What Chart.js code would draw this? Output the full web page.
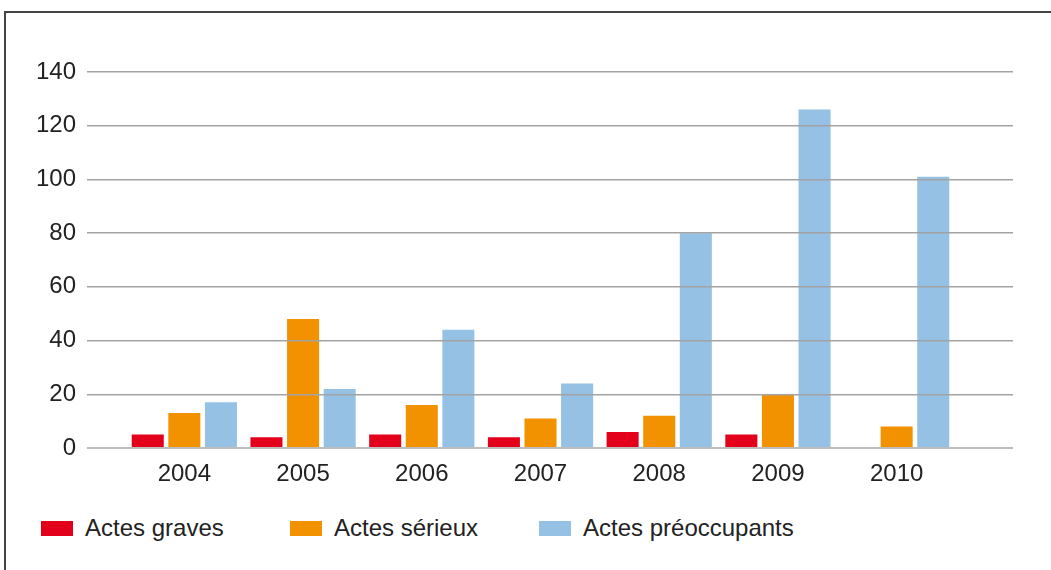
<!DOCTYPE html>
<html>
<head>
<meta charset="utf-8">
<script src="https://cdn.jsdelivr.net/npm/chart.js@4.4.1/dist/chart.umd.min.js"></script>
<style>
  html, body { margin: 0; padding: 0; background: #fff; }
  body { width: 1051px; height: 570px; position: relative; overflow: hidden; font-family: "Liberation Sans", Arial, sans-serif; }
  #frame { position: absolute; left: 4px; top: 11px; width: 1100px; height: 620px; border: 2px solid #444; box-sizing: border-box; }
  #c { position: absolute; left: 0; top: 0; }
  .lg { position: absolute; top: 514px; height: 28px; display: flex; align-items: center; font-size: 24px; color: #222; white-space: nowrap; }
  .lg span.box { display: inline-block; width: 32px; height: 15px; margin-right: 12px; }
</style>
</head>
<body>
<div id="frame"></div>
<canvas id="c" width="1051" height="500"></canvas>
<div id="legend"></div>
<script>
const years = [2004, 2005, 2006, 2007, 2008, 2009, 2010];
const seriesNames = ["Actes graves", "Actes sérieux", "Actes préoccupants"];
const actesGraves = [5, 4, 5, 4, 6, 5, 0];
const actesSerieux = [13, 48, 16, 11, 12, 20, 8];
const actesPreoccupants = [17, 22, 44, 24, 80, 126, 101];
const yTicks = [0, 20, 40, 60, 80, 100, 120, 140];
const colors = ["#e3001b", "#f39200", "#95c1e4"];

const seriesValues = [actesGraves, actesSerieux, actesPreoccupants];
const datasets = seriesValues.map((vals, i) => ({
  label: seriesNames[i],
  data: years.map((y, k) => ({ x: y, y: vals[k] })),
  backgroundColor: colors[i],
  borderWidth: 0,
  categoryPercentage: 0.925,
  barPercentage: 0.875
}));

const font = { family: '"Liberation Sans", Arial, sans-serif', size: 24 };

const chart = new Chart(document.getElementById('c'), {
  type: 'bar',
  data: { datasets },
  options: {
    responsive: false,
    devicePixelRatio: 1,
    animation: false,
    layout: { padding: { left: 0, right: 38, top: 72, bottom: 0 } },
    plugins: { legend: { display: false }, tooltip: { enabled: false } },
    scales: {
      x: {
        type: 'linear',
        offset: false,
        min: 2003.18,
        max: 2010.98,
        grid: { display: false },
        border: { display: false },
        afterFit: s => { s.height = 52; },
        afterBuildTicks: s => { s.ticks = years.map(v => ({ value: v })); },
        ticks: {
          includeBounds: false,
          stepSize: 1,
          padding: 4,
          color: '#222',
          font,
          callback: v => String(v)
        }
      },
      y: {
        min: yTicks[0],
        max: yTicks[yTicks.length - 1],
        afterFit: s => { s.width = 87; },
        afterBuildTicks: s => { s.ticks = yTicks.map(v => ({ value: v })); },
        border: { display: false },
        grid: {
          z: 1,
          drawTicks: false,
          color: ctx => ctx.tick && ctx.tick.value === 0 ? '#bdbdbd' : '#a3a3a3',
          lineWidth: ctx => ctx.tick && ctx.tick.value === 0 ? 2 : 1.5
        },
        ticks: { padding: 11, color: '#222', font, callback: v => String(v) }
      }
    }
  }
});

// HTML legend built from the chart's datasets
const legendX = [41, 290, 539];
const legend = document.getElementById('legend');
chart.data.datasets.forEach((ds, i) => {
  const item = document.createElement('div');
  item.className = 'lg';
  item.style.left = legendX[i] + 'px';
  const box = document.createElement('span');
  box.className = 'box';
  box.style.background = ds.backgroundColor;
  const txt = document.createElement('span');
  txt.textContent = ds.label;
  item.appendChild(box);
  item.appendChild(txt);
  legend.appendChild(item);
});
</script>
</body>
</html>
